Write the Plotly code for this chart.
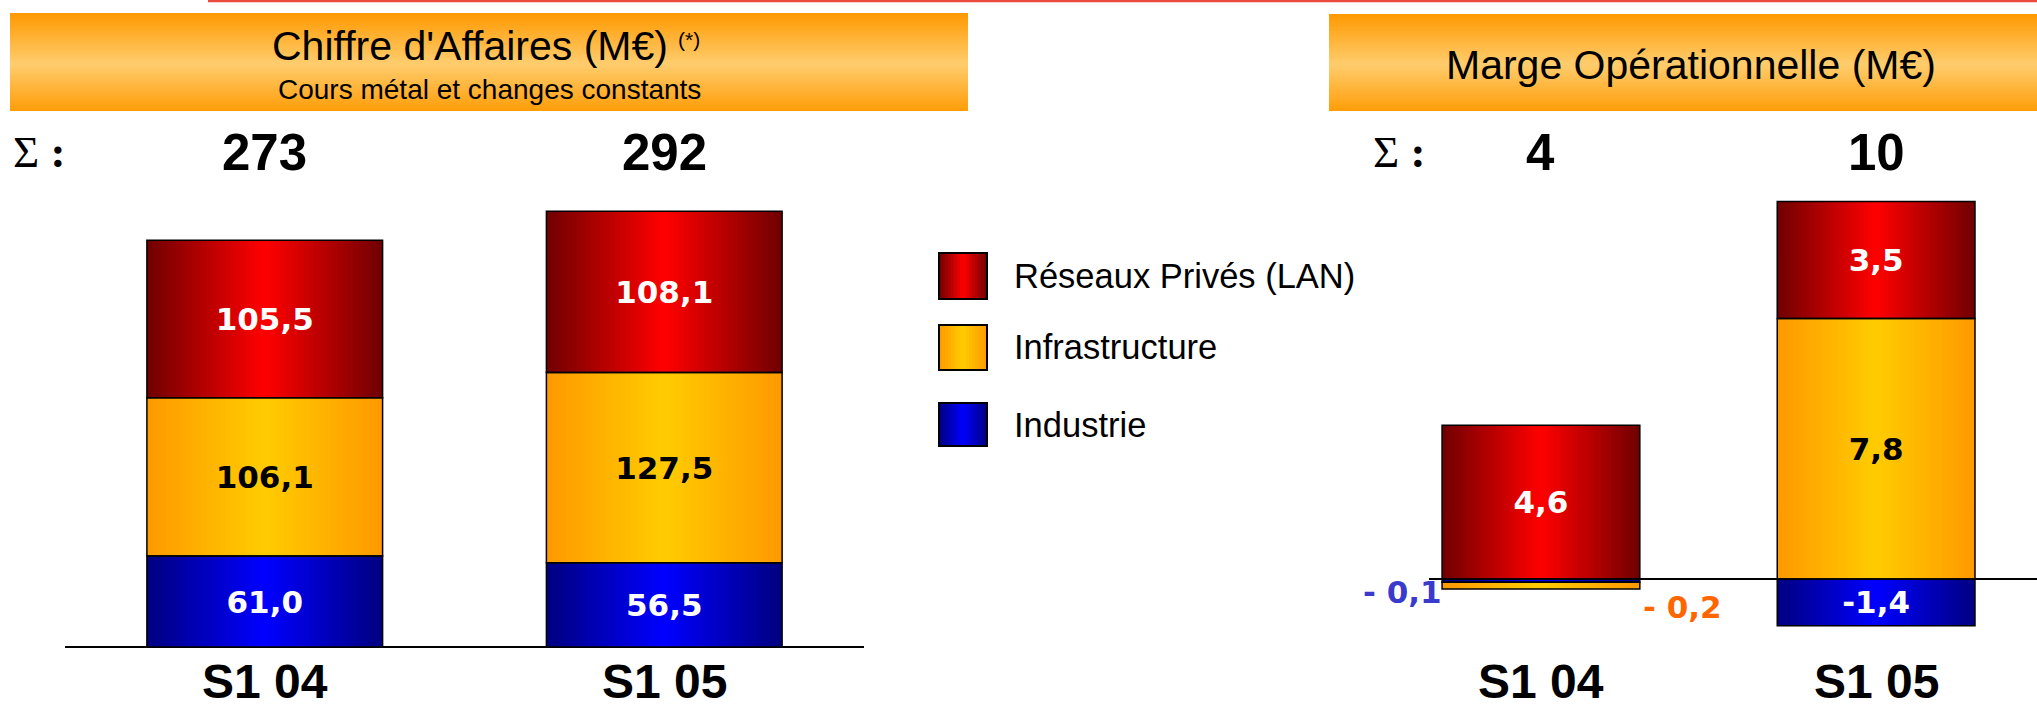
import plotly.graph_objects as go

# ---------------- data ----------------
categories = ["S1 04", "S1 05"]
series_names = ["Industrie", "Infrastructure", "Réseaux Privés (LAN)"]
ca_industrie = [61.0, 56.5]
ca_infrastructure = [106.1, 127.5]
ca_reseaux = [105.5, 108.1]
mo_industrie = [-0.1, -1.4]
mo_infrastructure = [-0.2, 7.8]
mo_reseaux = [4.6, 3.5]
legend_order = ["Réseaux Privés (LAN)", "Infrastructure", "Industrie"]
title_ca = "Chiffre d'Affaires (M€)"
title_ca_note = "(*)"
subtitle_ca = "Cours métal et changes constants"
title_mo = "Marge Opérationnelle (M€)"
sigma_label = "Σ"

# ---------------- styles ----------------
W, H = 2037, 707
grad = {
    "Industrie": ((0, 0, 128), (0, 0, 255)),
    "Infrastructure": ((255, 153, 0), (255, 204, 0)),
    "Réseaux Privés (LAN)": ((112, 0, 0), (255, 0, 0)),
}
text_col = {"Industrie": "white", "Infrastructure": "black", "Réseaux Privés (LAN)": "white"}
small_col = {"Industrie": "#3a3acc", "Infrastructure": "#ff6600"}
small_side = {"Industrie": "left", "Infrastructure": "right"}
BAR_W = 0.59
NSTRIP = 48
VAL_FONT = dict(family="DejaVu Sans", size=31)
BIG_FONT = dict(family="Liberation Sans", size=51, color="black")
CAT_FONT = dict(family="Liberation Sans", size=48, color="black")


def px_x(p):
    return p / W


def px_y(p):
    return 1 - p / H


def mix(a, b, f):
    return "rgb(%d,%d,%d)" % tuple(round(a[i] + (b[i] - a[i]) * f) for i in range(3))


def fmt(v):
    return ("%.1f" % v).replace(".", ",")


def stack_bases(values_list):
    n = len(values_list[0])
    pos = [0.0] * n
    neg = [0.0] * n
    bases = []
    for vals in values_list:
        b = []
        for i, v in enumerate(vals):
            if v >= 0:
                b.append(pos[i]); pos[i] += v
            else:
                b.append(neg[i]); neg[i] += v
        bases.append(b)
    return bases


fig = go.Figure()
annotations = []
shapes = []


def add_chart(values_list, xa, ya):
    bases = stack_bases(values_list)
    xs, ys, bs, names = [], [], [], []
    for s, vals, bb in zip(series_names, values_list, bases):
        for i, c in enumerate(categories):
            xs.append(c); ys.append(vals[i]); bs.append(bb[i]); names.append(s)
    sw = BAR_W / NSTRIP
    for k in range(NSTRIP):
        t = (k + 0.5) / NSTRIP
        f = 1 - abs(2 * t - 1)
        cols = [mix(grad[n][0], grad[n][1], f) for n in names]
        off = -BAR_W / 2 + k * sw
        wid = min(sw * 1.8, BAR_W / 2 - off)
        fig.add_trace(go.Bar(x=xs, y=ys, base=bs, width=wid, offset=off,
                             marker=dict(color=cols, line=dict(width=0)),
                             xaxis=xa, yaxis=ya, showlegend=False, hoverinfo="skip"))
    labels, tcols = [], []
    for n, v in zip(names, ys):
        if abs(v) < 0.5:
            labels.append(""); tcols.append("white")
        else:
            labels.append("<b>" + fmt(v) + "</b>"); tcols.append(text_col[n])
    fig.add_trace(go.Bar(x=xs, y=ys, base=bs, width=BAR_W, offset=-BAR_W / 2,
                         marker=dict(color="rgba(0,0,0,0)", line=dict(color="black", width=1.5)),
                         text=labels, textposition="inside", insidetextanchor="middle",
                         textangle=0, cliponaxis=False,
                         textfont=dict(family=VAL_FONT["family"], size=VAL_FONT["size"], color=tcols),
                         xaxis=xa, yaxis=ya, showlegend=False, hoverinfo="skip"))
    # small values outside the bar
    for n, v, b, c in zip(names, ys, bs, xs):
        if abs(v) < 0.5:
            side = small_side.get(n, "right")
            txt = "- " + fmt(abs(v)) if v < 0 else fmt(v)
            annotations.append(dict(
                x=c, y=b + v / 2, xref=xa, yref=ya, text="<b>" + txt + "</b>", showarrow=False,
                xanchor="right" if side == "left" else "left",
                xshift=-97 if side == "left" else 100,
                yshift=-11 if side == "left" else -21,
                font=dict(family="DejaVu Sans", size=31, color=small_col[n])))
    # totals
    for i, c in enumerate(categories):
        tot = sum(vals[i] for vals in values_list)
        annotations.append(dict(x=c, y=px_y(152), xref=xa, yref="paper", text="<b>%d</b>" % round(tot),
                                showarrow=False, font=BIG_FONT, xanchor="center", yanchor="middle"))
    return bases


add_chart([ca_industrie, ca_infrastructure, ca_reseaux], "x", "y")
add_chart([mo_industrie, mo_infrastructure, mo_reseaux], "x2", "y2")

# category labels
for i, c in enumerate(categories):
    annotations.append(dict(x=c, y=px_y(681), xref="x", yref="paper", text="<b>%s</b>" % c,
                            showarrow=False, font=CAT_FONT, xanchor="center", yanchor="middle"))
    annotations.append(dict(x=c, y=px_y(681), xref="x2", yref="paper", text="<b>%s</b>" % c,
                            showarrow=False, font=CAT_FONT, xanchor="center", yanchor="middle"))

# sigma labels
for xp in (11, 1371):
    annotations.append(dict(x=px_x(xp), y=px_y(152), xref="paper", yref="paper",
                            text="%s <b>:</b>" % sigma_label, showarrow=False, xanchor="left", yanchor="middle",
                            font=dict(family="Liberation Serif", size=45, color="black")))


# title boxes with vertical gradient
def grad_box(x0, x1, y0, y1, n=40):
    for k in range(n):
        t = (k + 0.5) / n
        f = max(0.0, 1 - abs(t - 0.52) / 0.52)
        col = mix((255, 153, 0), (255, 205, 110), f)
        ya = y0 + (y1 - y0) * k / n
        yb = y0 + (y1 - y0) * (k + 1.6) / n
        yb = min(yb, y1)
        shapes.append(dict(type="rect", xref="paper", yref="paper", x0=px_x(x0), x1=px_x(x1),
                           y0=px_y(yb), y1=px_y(ya), line=dict(width=0), fillcolor=col, layer="below"))


grad_box(10, 968, 13, 111)
grad_box(1329, 2037, 14, 111)

annotations.append(dict(x=px_x(470), y=px_y(46), xref="paper", yref="paper", text=title_ca, showarrow=False,
                        xanchor="center", yanchor="middle", font=dict(family="Liberation Sans", size=41, color="black")))
annotations.append(dict(x=px_x(676), y=px_y(40), xref="paper", yref="paper", text=title_ca_note, showarrow=False,
                        xanchor="left", yanchor="middle", font=dict(family="Liberation Sans", size=21, color="black")))
annotations.append(dict(x=px_x(489), y=px_y(89), xref="paper", yref="paper", text=subtitle_ca, showarrow=False,
                        xanchor="center", yanchor="middle", font=dict(family="Liberation Sans", size=28, color="black")))
annotations.append(dict(x=px_x(1691), y=px_y(65), xref="paper", yref="paper", text=title_mo, showarrow=False,
                        xanchor="center", yanchor="middle", font=dict(family="Liberation Sans", size=41, color="black")))

# top red rule
shapes.append(dict(type="line", xref="paper", yref="paper", x0=px_x(208), x1=1, y0=px_y(1), y1=px_y(1),
                   line=dict(color="#ec4a3c", width=2.5)))

# legend (manual, gradient swatches)
leg_rows = [(253, 299), (325, 370), (403, 446)]
for name, (t0, t1) in zip(legend_order, leg_rows):
    e, c = grad[name]
    n = 16
    x0, x1 = 939, 987
    for k in range(n):
        t = (k + 0.5) / n
        f = 1 - abs(2 * t - 1)
        xa = x0 + (x1 - x0) * k / n
        xb = min(x1, x0 + (x1 - x0) * (k + 1.6) / n)
        shapes.append(dict(type="rect", xref="paper", yref="paper", x0=px_x(xa), x1=px_x(xb),
                           y0=px_y(t1), y1=px_y(t0), line=dict(width=0), fillcolor=mix(e, c, f)))
    shapes.append(dict(type="rect", xref="paper", yref="paper", x0=px_x(x0), x1=px_x(x1),
                       y0=px_y(t1), y1=px_y(t0), line=dict(color="black", width=2), fillcolor="rgba(0,0,0,0)"))
    annotations.append(dict(x=px_x(1012), y=px_y((t0 + t1) / 2), xref="paper", yref="paper", text=name,
                            showarrow=False, xanchor="left", yanchor="middle",
                            font=dict(family="Liberation Sans", size=34.5, color="black")))

axis_common = dict(showgrid=False, showticklabels=False, ticks="", showline=False)
fig.update_layout(
    width=W, height=H, autosize=False,
    margin=dict(l=0, r=0, t=0, b=0, pad=0),
    paper_bgcolor="white", plot_bgcolor="rgba(0,0,0,0)",
    barmode="overlay", showlegend=False,
    xaxis=dict(domain=[px_x(65), px_x(864)], range=[-0.5, 1.5], type="category", zeroline=False, **axis_common),
    yaxis=dict(domain=[px_y(662), px_y(199.4)], range=[-10, 300], zeroline=True, zerolinecolor="black",
               zerolinewidth=1.5, **axis_common),
    xaxis2=dict(domain=[px_x(1429), 1.0], range=[-0.334, 1.48], type="category", zeroline=False,
                anchor="y2", **axis_common),
    yaxis2=dict(domain=[px_y(679.2), px_y(144.8)], range=[-3, 13], zeroline=True, zerolinecolor="black",
                zerolinewidth=1.5, anchor="x2", **axis_common),
    annotations=annotations,
    shapes=shapes,
)

fig.write_html("out.html", config={"displayModeBar": False},
               post_script="document.body.style.margin='0';document.body.style.overflow='hidden';")
